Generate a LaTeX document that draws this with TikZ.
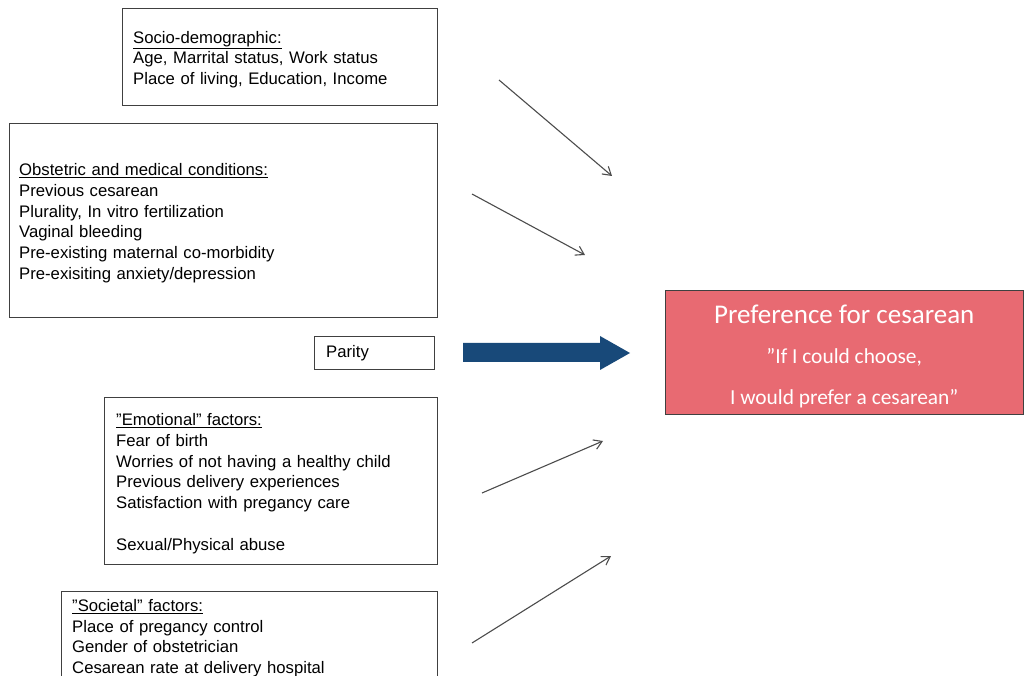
\documentclass[tikz,border=0pt]{standalone}
\usepackage{fontspec}
\setmainfont{Liberation Sans}
\newfontfamily\prefont{Carlito}
\usetikzlibrary{arrows.meta}
\definecolor{prefpink}{RGB}{232,106,114}
\definecolor{arrowblue}{RGB}{24,73,121}

\begin{document}
\begin{tikzpicture}[x=1pt, y=-1pt,
  factor/.style={draw=black!75, anchor=north west, align=left, inner ysep=0pt, font=\fontsize{16.7}{20.7}\selectfont},
  listbox/.style={factor, execute at begin node={\rule{0pt}{18pt}}},
  thinarrow/.style={-{Straight Barb[length=8pt, width=10pt]}, draw=black!70, line width=1.1pt}]
\useasboundingbox (0,0) rectangle (1026,676);

\node[listbox, inner xsep=11pt, text width=293pt, minimum height=97pt] (socio) at (122,8)
  {\underline{Socio-demographic:}\\ Age, Marrital status, Work status\\ Place of living, Education, Income};
\node[listbox, inner xsep=10pt, text width=408pt, minimum height=194pt] (obst) at (9,123)
  {\underline{Obstetric and medical conditions:}\\ Previous cesarean\\ Plurality, In vitro fertilization\\ Vaginal bleeding\\ Pre-existing maternal co-morbidity\\ Pre-exisiting anxiety/depression};
\node[factor, inner xsep=12pt, text width=96pt, minimum height=33pt] (parity) at (314,336) {Parity};
\node[listbox, inner xsep=12pt, text width=309pt, minimum height=167pt] (emot) at (104,397)
  {\underline{”Emotional” factors:}\\ Fear of birth\\ Worries of not having a healthy child\\ Previous delivery experiences\\ Satisfaction with pregancy care\\[20.7pt] Sexual/Physical abuse};
\node[listbox, inner xsep=11pt, text width=354pt, minimum height=88pt] (soc) at (61,591)
  {\underline{”Societal” factors:}\\ Place of pregancy control\\ Gender of obstetrician\\ Cesarean rate at delivery hospital};

\node[draw=black!75, fill=prefpink, text=white, anchor=north west, minimum width=358pt, minimum height=124pt,
  align=center, font=\prefont\fontsize{21.4}{40.5}\selectfont] (pref) at (665,290)
  {{\fontsize{27}{40.5}\selectfont\rule{0pt}{27pt}Preference for cesarean}\\ ”If I could choose,\\ I would prefer a cesarean”};

% thin arrows
\coordinate (s1) at (499,80);  \coordinate (e1) at (612,176);
\coordinate (s2) at (472,194); \coordinate (e2) at (585,255);
\coordinate (s3) at (482,493); \coordinate (e3) at (603,441);
\coordinate (s4) at (472,643); \coordinate (e4) at (611,556);
\draw[thinarrow] (s1) -- (e1);
\draw[thinarrow] (s2) -- (e2);
\draw[thinarrow] (s3) -- (e3);
\draw[thinarrow] (s4) -- (e4);

% parity arrow
\fill[arrowblue] (463,343) -- (600,343) -- (600,336) -- (630,353) -- (600,370) -- (600,362) -- (463,362) -- cycle;
\end{tikzpicture}
\end{document}
